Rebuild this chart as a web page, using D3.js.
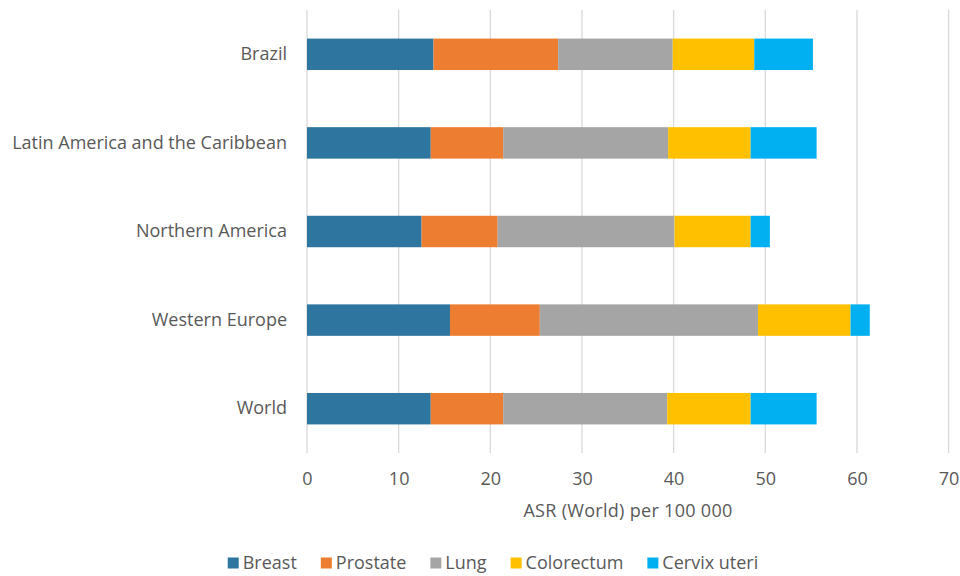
<!DOCTYPE html>
<html>
<head>
<meta charset="utf-8">
<script src="https://cdn.jsdelivr.net/npm/d3@7"></script>
<style>
  body { margin: 0; background: #fff; }
  svg text { font-family: "Open Sans", "Noto Sans", sans-serif; fill: #595959; }
</style>
</head>
<body>
<div id="chart"></div>
<script>
// Stacked horizontal bars: cancer incidence ASR (World) per 100 000 by region

const regions = ["Brazil", "Latin America and the Caribbean", "Northern America", "Western Europe", "World"];
const seriesNames = ["Breast", "Prostate", "Lung", "Colorectum", "Cervix uteri"];
const breast     = [13.8, 13.5, 12.5, 15.6, 13.5];
const prostate   = [13.6,  7.9,  8.3,  9.8,  7.9];
const lung       = [12.5, 18.0, 19.3, 23.8, 17.9];
const colorectum = [ 8.9,  9.0,  8.3, 10.1,  9.1];
const cervix     = [ 6.4,  7.2,  2.1,  2.1,  7.2];
const xTicks = [0, 10, 20, 30, 40, 50, 60, 70];
const colors = ["#2E75A0", "#ED7D31", "#A5A5A5", "#FFC000", "#00B0F0"];

const W = 960, H = 576;
const margin = { top: 10, right: 12, bottom: 123, left: 307 };
const width = W - margin.left - margin.right;
const height = H - margin.top - margin.bottom;

const svg = d3.select("#chart").append("svg")
  .attr("width", W).attr("height", H);
const g = svg.append("g").attr("transform", `translate(${margin.left},${margin.top})`);

// rows for the stack
const rows = regions.map((r, i) => ({
  region: r,
  "Breast": breast[i],
  "Prostate": prostate[i],
  "Lung": lung[i],
  "Colorectum": colorectum[i],
  "Cervix uteri": cervix[i]
}));
const stacked = d3.stack().keys(seriesNames)(rows);

const x = d3.scaleLinear().domain([0, 70]).range([0, 641.6]);
const y = d3.scaleBand().domain(regions).range([0, height]).paddingInner(0.645).paddingOuter(0.3225);
const color = d3.scaleOrdinal().domain(seriesNames).range(colors);

// gridlines
g.append("g").selectAll("line").data(xTicks).join("line")
  .attr("x1", d => x(d)).attr("x2", d => x(d))
  .attr("y1", 0).attr("y2", height)
  .attr("stroke", "#d9d9d9").attr("stroke-width", 1.3);

// bars
g.append("g").selectAll("g").data(stacked).join("g")
  .attr("fill", d => color(d.key))
  .selectAll("rect").data(d => d).join("rect")
  .attr("x", d => x(d[0]))
  .attr("y", d => y(d.data.region))
  .attr("width", d => x(d[1]) - x(d[0]))
  .attr("height", y.bandwidth());

// x axis labels
const xAxis = d3.axisBottom(x).tickValues(xTicks).tickSize(0).tickPadding(19);
const xAxisG = g.append("g").attr("transform", `translate(0,${height})`).call(xAxis);
xAxisG.select(".domain").remove();
xAxisG.selectAll("text").style("font-size", "18px").attr("fill", "#595959");

// y axis labels
const yAxis = d3.axisLeft(y).tickSize(0).tickPadding(20);
const yAxisG = g.append("g").call(yAxis);
yAxisG.select(".domain").remove();
yAxisG.selectAll("text").style("font-size", "18px").attr("fill", "#595959");

// axis title
svg.append("text")
  .attr("x", 628).attr("y", 517)
  .attr("text-anchor", "middle")
  .style("font-size", "18px")
  .style("letter-spacing", "0.3px")
  .text("ASR (World) per 100 000");

// legend
const legend = svg.append("g").attr("transform", "translate(0,563)");
const items = legend.selectAll("g").data(seriesNames).join("g");
items.append("rect")
  .attr("y", -5.5).attr("width", 11).attr("height", 11)
  .attr("fill", d => color(d));
items.append("text")
  .attr("x", 15).attr("dy", "0.35em")
  .style("font-size", "18px")
  .text(d => d);
let cx = 0;
items.each(function() {
  const wText = d3.select(this).select("text").node().getComputedTextLength();
  d3.select(this).attr("transform", `translate(${cx},0)`);
  cx += 15 + wText + 24;
});
const total = cx - 24;
legend.attr("transform", `translate(${493 - total / 2},563)`);
</script>
</body>
</html>
